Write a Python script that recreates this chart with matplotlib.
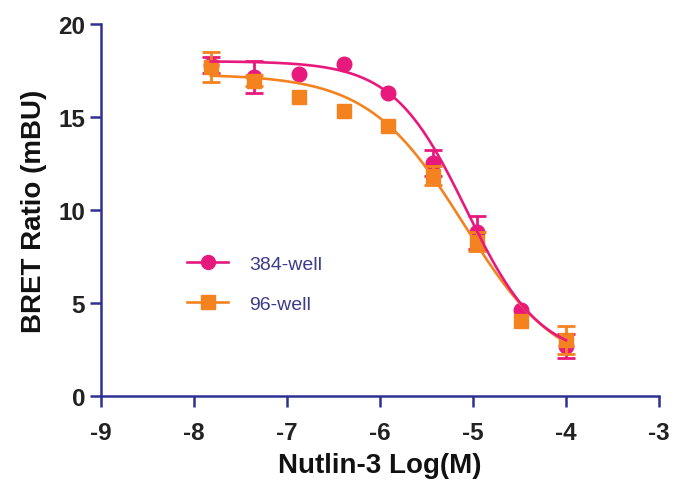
import numpy as np
import matplotlib
matplotlib.use("Agg")
import matplotlib.pyplot as plt
from matplotlib.lines import Line2D

# ---- data ----
log_conc = [-7.82, -7.35, -6.87, -6.39, -5.91, -5.43, -4.96, -4.48, -4.0]

well384_mean = [17.8, 17.15, 17.3, 17.85, 16.3, 12.55, 8.8, 4.6, 2.7]
well384_err = [0.45, 0.85, 0.0, 0.0, 0.0, 0.7, 0.9, 0.0, 0.65]

well96_mean = [17.7, 16.95, 16.1, 15.3, 14.5, 11.85, 8.3, 4.05, 3.0]
well96_err = [0.8, 0.3, 0.0, 0.0, 0.0, 0.5, 0.5, 0.0, 0.75]

# four-parameter logistic fits: top, bottom, logIC50, hill
fit384 = (18.0, 2.0, -5.07, 1.1)
fit96 = (17.3, 1.2, -5.10, 0.85)

series_labels = ["384-well", "96-well"]
x_ticks = [-9, -8, -7, -6, -5, -4, -3]
y_ticks = [0, 5, 10, 15, 20]

PINK = "#E8197D"
ORANGE = "#F4821F"
NAVY = "#2E3192"
TXT = "#222222"
LEG_TXT = "#3C3C8A"

plt.rcParams["font.family"] = ["Liberation Sans", "DejaVu Sans"]

fig = plt.figure(figsize=(6.74, 4.85), dpi=100)
ax = fig.add_axes([101/674, 1-397/485, 558/674, 372/485])


def logistic(x, p):
    top, bottom, ic, h = p
    return bottom + (top - bottom) / (1 + 10 ** ((x - ic) * h))


x = np.array(log_conc)
for mean, err, color, mk, ms, z in [
    (well384_mean, well384_err, PINK, "o", 10.5, 3),
    (well96_mean, well96_err, ORANGE, "s", 10, 4),
]:
    m = np.array(mean)
    e = np.array(err)
    sel = e > 0
    ax.errorbar(x[sel], m[sel], yerr=e[sel], fmt="none", ecolor=color,
                elinewidth=2, capsize=6.5, capthick=2, zorder=z)
    ax.plot(x, m, linestyle="none", marker=mk, markersize=ms, color=color, zorder=z)

xs = np.linspace(min(log_conc), max(log_conc), 300)
ax.plot(xs, logistic(xs, fit96), color=ORANGE, lw=1.9, zorder=5)
ax.plot(xs, logistic(xs, fit384), color=PINK, lw=1.9, zorder=6)

ax.set_xlim(-9, -3)
ax.set_ylim(0, 20)
ax.set_xticks(x_ticks)
ax.set_yticks(y_ticks)
ax.set_xticklabels([str(t) for t in x_ticks])
ax.set_yticklabels([str(t) for t in y_ticks])

for s in ["top", "right"]:
    ax.spines[s].set_visible(False)
for s in ["left", "bottom"]:
    ax.spines[s].set_color(NAVY)
    ax.spines[s].set_linewidth(1.8)

ax.tick_params(axis="both", direction="out", length=8, width=1.8, color=NAVY,
               labelsize=17.5, labelcolor=TXT)
ax.tick_params(axis="x", pad=10)
ax.tick_params(axis="y", pad=3.5)
for lab in ax.get_xticklabels() + ax.get_yticklabels():
    lab.set_fontweight("bold")

ax.set_xlabel("Nutlin-3 Log(M)", fontsize=20, fontweight="bold", color="#111111", labelpad=6)
ax.set_ylabel("BRET Ratio (mBU)", fontsize=20, fontweight="bold", color="#111111", labelpad=8)

handles = [
    Line2D([], [], color=PINK, marker="o", markersize=10, lw=1.9),
    Line2D([], [], color=ORANGE, marker="s", markersize=9.5, lw=1.9),
]
leg = ax.legend(handles, series_labels, loc="upper left", bbox_to_anchor=(0.155, 0.378),
                frameon=False, fontsize=14, borderpad=0, borderaxespad=0,
                handlelength=2.1, handletextpad=1.05, labelspacing=1.15)
for t in leg.get_texts():
    t.set_color(LEG_TXT)

fig.savefig("out.png", dpi=100)
